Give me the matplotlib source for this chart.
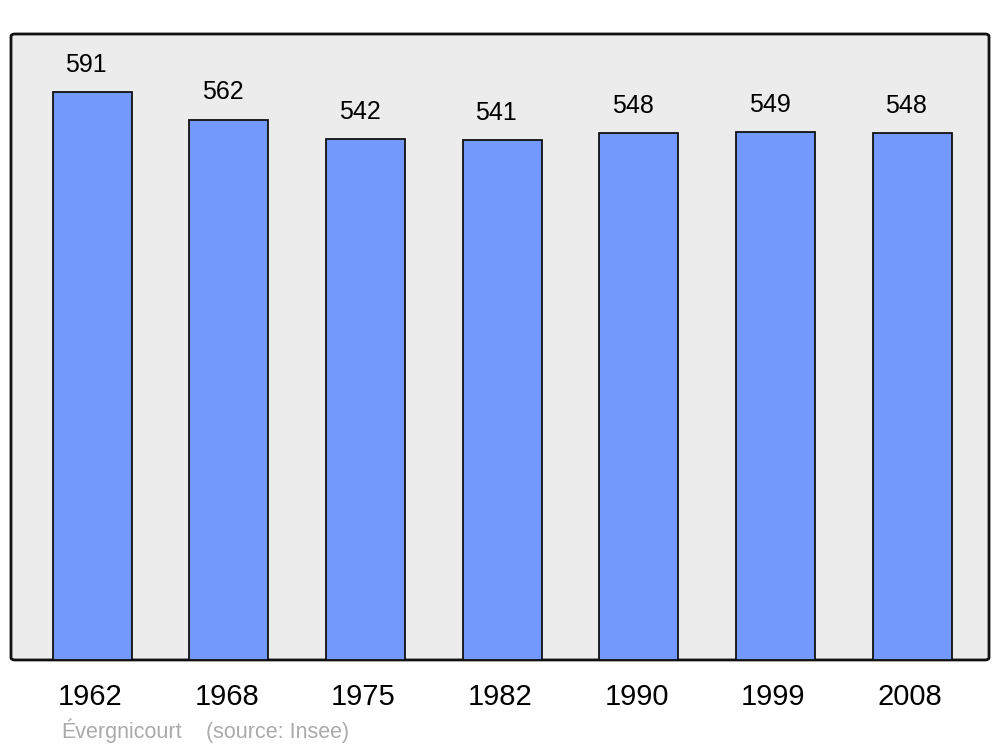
import matplotlib.pyplot as plt
import matplotlib.transforms as mtransforms
from matplotlib.patches import FancyBboxPatch

plt.rcParams['font.family'] = ['Liberation Sans', 'DejaVu Sans']

years = ['1962', '1968', '1975', '1982', '1990', '1999', '2008']
population = [591, 562, 542, 541, 548, 549, 548]

bar_color = '#7399ff'
panel_color = '#ececec'

fig = plt.figure(figsize=(10, 7.47), dpi=100)
ax = fig.add_axes([0.011, 0.1165, 0.978, 0.838])
ax.set_facecolor('none')
ax.set_xlim(-0.593, 6.563)
ax.set_ylim(0, 651)

# rounded panel behind the bars
panel = FancyBboxPatch((0, 0), 1, 1, boxstyle='round,pad=0,rounding_size=0.004',
                       transform=ax.transAxes, facecolor=panel_color,
                       edgecolor='#111111', linewidth=2, zorder=0, clip_on=False)
ax.add_patch(panel)

x = list(range(len(years)))
bars = ax.bar(x, population, width=0.578, color=bar_color,
              edgecolor='#111111', linewidth=1.3, zorder=2)

for xi, v in zip(x, population):
    ax.annotate(str(v), (xi, v), xytext=(-4.3, 19.5), textcoords='offset points',
                ha='center', va='center', fontsize=18, color='black')

for s in ax.spines.values():
    s.set_visible(False)
ax.set_yticks([])
ax.set_xticks(x)
ax.set_xticklabels(years, fontsize=21)
ax.tick_params(axis='x', length=0, pad=16.5)
shift = mtransforms.ScaledTranslation(-2 / 100, 0, fig.dpi_scale_trans)
for lbl in ax.get_xticklabels():
    lbl.set_transform(lbl.get_transform() + shift)

fig.text(0.061, 0.012, 'Évergnicourt', color='#aaaaaa', fontsize=15.5, ha='left', va='baseline')
fig.text(0.206, 0.012, '(source: Insee)', color='#aaaaaa', fontsize=15.5, ha='left', va='baseline')

fig.savefig('out.png', dpi=100)
